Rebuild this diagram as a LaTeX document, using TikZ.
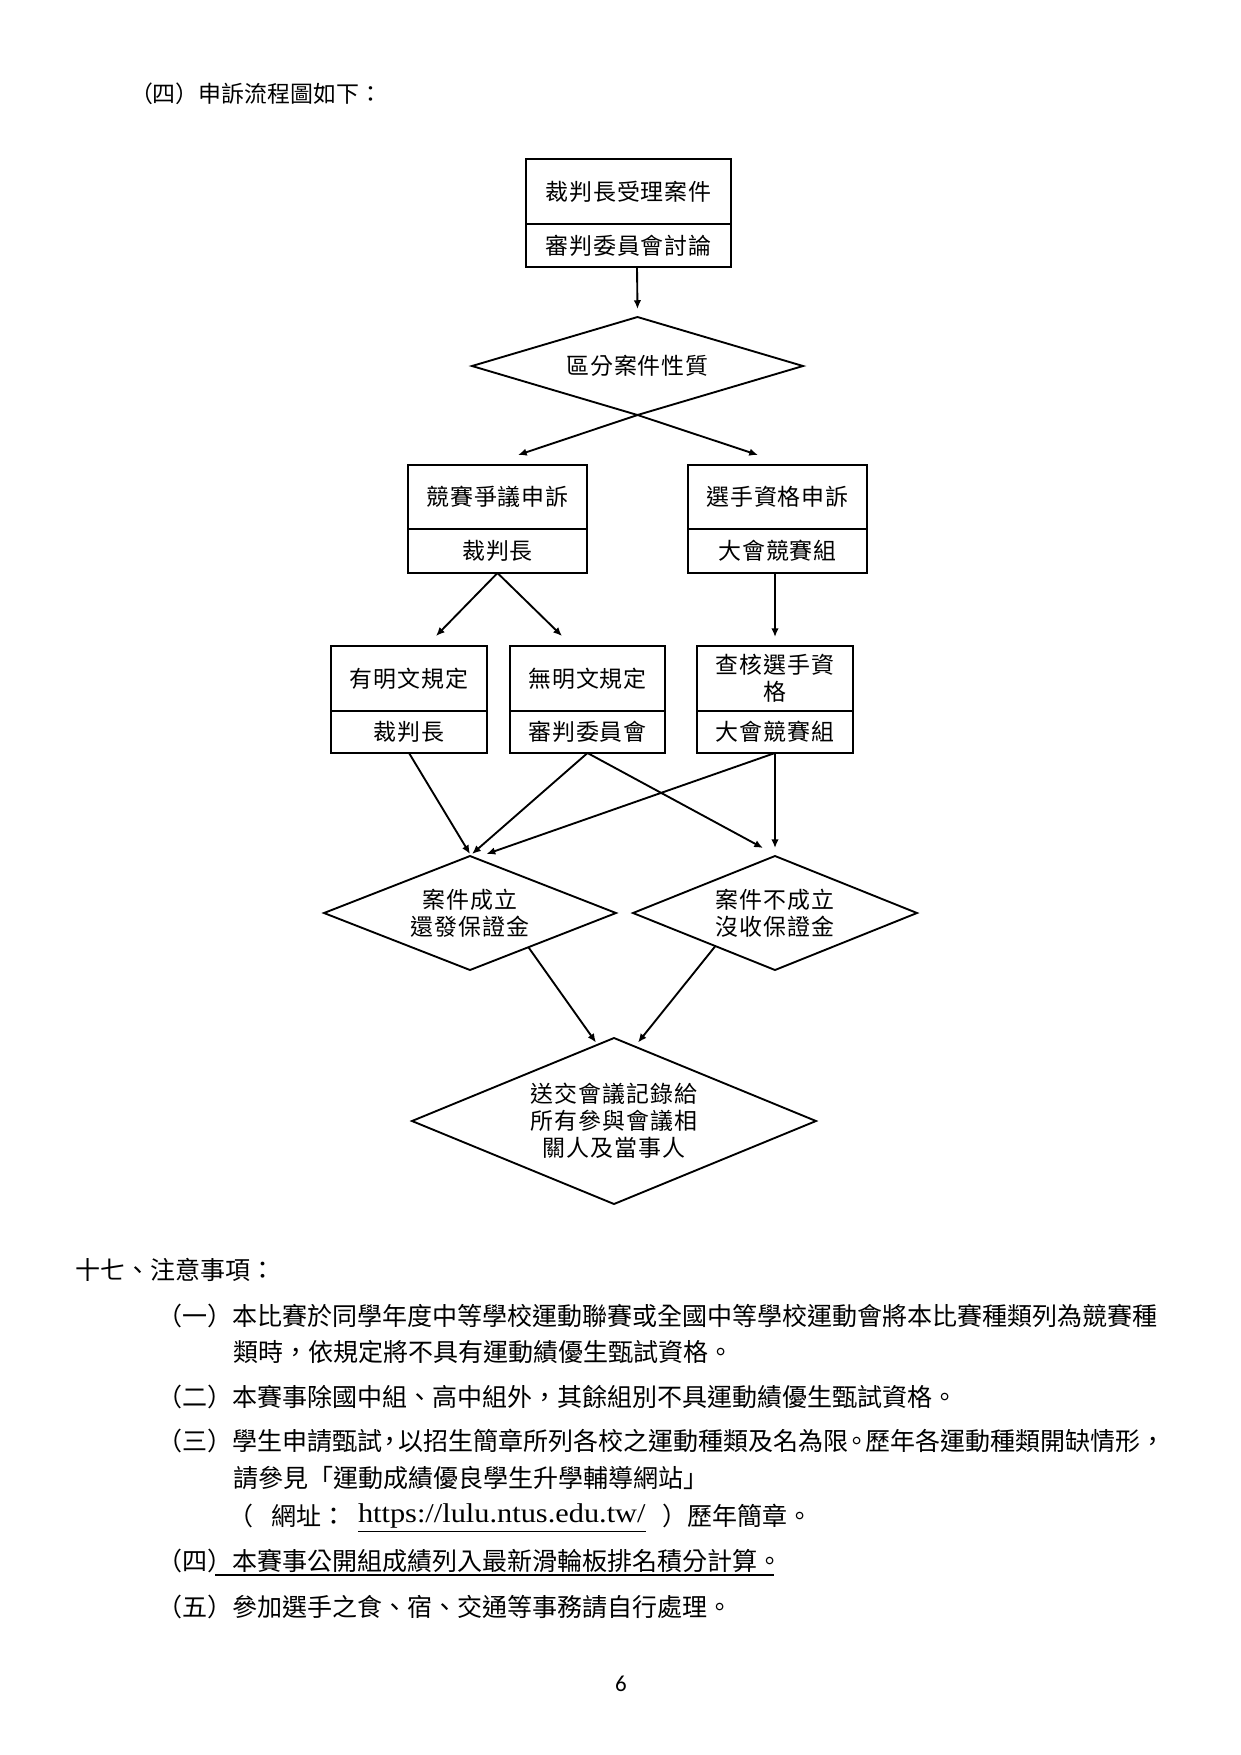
\documentclass[tikz,border=0pt]{standalone}
\usepackage{fontspec}
\usetikzlibrary{shapes.geometric,arrows.meta,calc}
\newfontfamily\cjk{Noto Sans CJK TC}
\newfontfamily\cjksp[LetterSpace=4]{Noto Sans CJK TC}
\newfontfamily\urlfont[FakeStretch=1.12]{Liberation Serif}
\newfontfamily\pgnum{Carlito}
\def\P{0.47968pt}
\newcommand\flfont{\cjksp\fontsize{11pt}{13pt}\selectfont}
\newcommand\bodyfont{\cjk\fontsize{12pt}{14pt}\selectfont}
\begin{document}
\begin{tikzpicture}[x=\P, y=-\P,
  box/.style={draw, line width=0.9pt, inner sep=0pt, outer sep=0pt, align=center, font=\flfont},
  dia/.style={draw, diamond, line width=0.9pt, inner sep=0pt, outer sep=0pt, align=center, font=\flfont},
  arr/.style={line width=0.9pt, -{Latex[length=4.2pt,width=3.6pt]}},
  body/.style={anchor=west, inner sep=0pt, outer sep=0pt, font=\bodyfont},
  uline/.style={line width=0.7pt}
]
\path[use as bounding box, fill=white] (0,0) rectangle (1241,1755);

% header
\node[body, font=\cjk\fontsize{11pt}{13pt}\selectfont] (hdr) at (130,94) {（四）申訴流程圖如下：};

% top box
\node[box, minimum width=205*\P, minimum height=65*\P] (tA) at (628.5,191.5) {裁判長受理案件};
\node[box, minimum width=205*\P, minimum height=43*\P] (tB) at (628.5,245.5) {審判委員會討論};

% first decision
\node[dia, minimum width=331*\P, minimum height=98*\P, shape aspect=3.4] (d1) at (637.5,366) {區分案件性質};

% second row
\node[box, minimum width=179*\P, minimum height=64*\P] (b1A) at (497.5,497) {競賽爭議申訴};
\node[box, minimum width=179*\P, minimum height=44*\P] (b1B) at (497.5,551) {裁判長};
\node[box, minimum width=179*\P, minimum height=64*\P] (b2A) at (777.5,497) {選手資格申訴};
\node[box, minimum width=179*\P, minimum height=44*\P] (b2B) at (777.5,551) {大會競賽組};

% third row
\node[box, minimum width=156*\P, minimum height=65*\P] (cA1) at (409,678.5) {有明文規定};
\node[box, minimum width=156*\P, minimum height=42*\P] (cA2) at (409,732) {裁判長};
\node[box, minimum width=155*\P, minimum height=65*\P] (cB1) at (587.5,678.5) {無明文規定};
\node[box, minimum width=155*\P, minimum height=42*\P] (cB2) at (587.5,732) {審判委員會};
\node[box, minimum width=156*\P, minimum height=65*\P] (cC1) at (775,678.5) {查核選手資\\格};
\node[box, minimum width=156*\P, minimum height=42*\P] (cC2) at (775,732) {大會競賽組};

% outcome diamonds
\node[dia, minimum width=292*\P, minimum height=114*\P, shape aspect=2.56] (dL) at (470,913) {案件成立\\還發保證金};
\node[dia, minimum width=284*\P, minimum height=114*\P, shape aspect=2.5] (dR) at (775,913) {案件不成立\\沒收保證金};

% final diamond
\node[dia, minimum width=404*\P, minimum height=166*\P, shape aspect=2.43] (dB) at (614,1121) {送交會議記錄給\\所有參與會議相\\關人及當事人};

% connectors
\draw[arr] ($(tB.south)+(8.5,0)$) -- ($(d1.north)+(0,-8)$);
\draw[arr] (d1.south) -- ($(b1A.north)+(20.5,-10)$);
\draw[arr] (d1.south) -- ($(b2A.north)+(-19.5,-10)$);
\draw[arr] (b1B.south) -- ($(cA1.north)+(27,-10)$);
\draw[arr] (b1B.south) -- ($(cB1.north)+(-25.5,-10)$);
\draw[arr] (cC1.north |- b2B.south) -- ($(cC1.north)+(0,-9)$);
\draw[arr] (cA2.south) -- ($(dL.north)+(0,-2)$);
\draw[arr] (cB2.south) -- ($(dL.north)+(2,-2)$);
\draw[arr] (cB2.south) -- ($(dR.north)+(-12,-8)$);
\draw[arr] (cC2.south) -- ($(dR.north)+(0,-8)$);
\draw[arr] (cC2.south) -- ($(dL.north)+(16.5,-2)$);
\draw[arr] ($(dL.east)!0.6!(dL.south)$) -- ($(dB.north)+(-18,4.5)$);
\draw[arr] ($(dR.west)!0.58!(dR.south)$) -- ($(dB.north)+(24,4.5)$);

% notes
\node[body] (n0) at (75,1270) {十七、注意事項：};
\node[body] (n1) at (157,1316) {（一）本比賽於同學年度中等學校運動聯賽或全國中等學校運動會將本比賽種類列為競賽種};
\node[body] (n1b) at (233,1352) {類時，依規定將不具有運動績優生甄試資格。};
\node[body] (n2) at (157,1397) {（二）本賽事除國中組、高中組外，其餘組別不具運動績優生甄試資格。};
\node[body] (n3) at (157,1441) {（三）學生申請甄試\kern-0.17em，\kern-0.17em以招生簡章所列各校之運動種類及名為限\kern-0.17em。\kern-0.17em歷年各運動種類開缺情形，};
\node[body] (n3b) at (233,1478) {請參見「運動成績優良學生升學輔導網站」};
\node[body] (n3c) at (228,1516) {（};
\node[body] (n3d) at (271,1516) {網址：};
\node[body, font=\urlfont\fontsize{13pt}{15pt}\selectfont] (url) at (358,1516) {https://lulu.ntus.edu.tw/};
\node[body] (n3e) at (662,1516) {）歷年簡章。};
\draw[uline] ($(url.south west)+(0,3)$) -- ($(url.south east)+(0,3)$);
\node[body] (n4) at (157,1561) {（四）本賽事公開組成績列入最新滑輪板排名積分計算。};
\draw[uline] (215,1575) -- (774,1575);
\node[body] (n5) at (157,1607) {（五）參加選手之食、宿、交通等事務請自行處理。};

\node[inner sep=0pt, font=\pgnum\fontsize{11pt}{13pt}\selectfont] (pg) at (621,1684) {6};
\end{tikzpicture}
\end{document}
